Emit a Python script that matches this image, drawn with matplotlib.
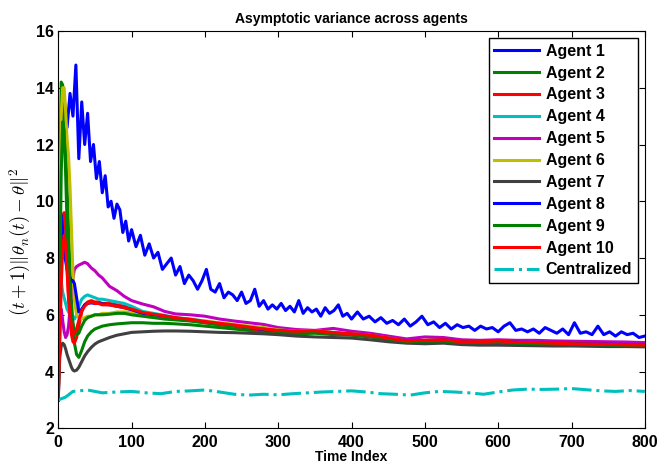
import numpy as np
import matplotlib
matplotlib.use("Agg")
import matplotlib.pyplot as plt

plt.rcParams['font.family'] = ['Liberation Sans', 'DejaVu Sans']
plt.rcParams['font.weight'] = 'bold'
plt.rcParams['mathtext.fontset'] = 'cm'

# time indices shared by agents 2..10
t_grid = [0, 2, 4, 6, 8, 10, 12, 14, 16, 18, 20, 22, 25, 28, 32, 36, 40, 45, 50, 55,
          60, 70, 80, 90, 100, 115, 130, 145, 160, 180, 200, 220, 240, 260, 280, 300,
          325, 350, 375, 400, 425, 450, 475, 500, 525, 550, 575, 600, 625, 650, 675,
          700, 725, 750, 775, 800]

# agent 1 is noisy, read on a denser grid
t_agent1 = list(range(0, 101, 4)) + list(range(106, 401, 6)) + list(range(408, 801, 8))
agent1 = [10.0, 12.8, 13.6, 12.6, 13.8, 13.0, 14.8, 11.5, 13.5, 12.0, 13.1, 11.4, 12.0,
          10.8, 11.4, 10.3, 10.9, 9.8, 10.0, 9.4, 9.9, 9.7, 8.9, 9.3, 8.6, 9.0,
          8.4, 8.8, 8.1, 8.5, 8.0, 8.2, 7.6, 7.8, 8.0, 7.4,
          7.7, 7.1, 7.4, 7.2, 6.9, 7.2, 7.6, 6.9, 6.8, 7.1,
          6.6, 6.8, 6.7, 6.5, 6.8, 6.4, 6.5, 6.9, 6.3, 6.5,
          6.2, 6.35, 6.2, 6.4, 6.15, 6.3, 6.1, 6.5, 6.05, 6.25,
          6.1, 6.2, 5.95, 6.25, 6.05, 6.15, 6.35, 5.95, 6.05, 5.85,
          6.1, 5.85, 5.95, 5.75, 5.9, 5.7, 5.8, 5.65, 5.85, 5.6,
          5.75, 5.95, 5.65, 5.75, 5.55, 5.7, 5.5, 5.65, 5.55, 5.6,
          5.45, 5.6, 5.5, 5.55, 5.4, 5.6, 5.72, 5.45, 5.5, 5.4,
          5.5, 5.35, 5.55, 5.45, 5.35, 5.5, 5.3, 5.72, 5.35, 5.4,
          5.3, 5.6, 5.3, 5.4, 5.25, 5.4, 5.3, 5.35, 5.2, 5.25]

agent2 = [3.0, 10.5, 14.2, 14.1, 13.2, 12.0, 10.5, 9.0, 7.6, 6.5, 5.6, 5.0, 4.6, 4.5,
          4.75, 5.05, 5.25, 5.4, 5.5, 5.55, 5.6, 5.65, 5.68, 5.7,
          5.72, 5.72, 5.7, 5.7, 5.68, 5.65, 5.6, 5.55, 5.5, 5.45, 5.4, 5.35, 5.33, 5.35,
          5.3, 5.28, 5.22, 5.12, 5.02, 5.05, 5.05, 5.0, 5.0, 5.0, 4.98, 4.97, 4.97, 4.95,
          4.93, 4.92, 4.92, 4.9]
agent3 = [3.0, 6.5, 8.8, 9.4, 9.6, 9.0, 7.8, 6.6, 5.8, 5.3, 5.05, 5.0, 5.2, 5.6, 6.1,
          6.35, 6.45, 6.5, 6.45, 6.45, 6.4, 6.4, 6.35, 6.3,
          6.2, 6.05, 6.0, 5.92, 5.85, 5.8, 5.72, 5.65, 5.6, 5.52, 5.46, 5.42, 5.38, 5.4,
          5.35, 5.3, 5.25, 5.15, 5.06, 5.08, 5.1, 5.04, 5.03, 5.05, 5.02, 5.02, 5.0, 4.99,
          4.97, 4.96, 4.94, 4.93]
agent4 = [3.0, 6.5, 7.2, 6.8, 6.6, 6.4, 6.2, 6.1, 6.0, 5.95, 5.9, 5.85, 6.0, 6.3, 6.55,
          6.65, 6.7, 6.65, 6.6, 6.55, 6.55, 6.5, 6.45, 6.4,
          6.3, 6.12, 6.05, 5.98, 5.9, 5.85, 5.78, 5.7, 5.64, 5.57, 5.5, 5.45, 5.4, 5.43,
          5.38, 5.33, 5.28, 5.18, 5.08, 5.1, 5.12, 5.06, 5.05, 5.07, 5.04, 5.04, 5.02,
          5.01, 4.99, 4.98, 4.96, 4.95]
agent5 = [3.0, 5.5, 6.2, 5.8, 5.4, 5.2, 5.3, 5.6, 6.2, 6.8, 7.3, 7.6, 7.7, 7.75, 7.8,
          7.85, 7.8, 7.65, 7.55, 7.4, 7.3, 7.0, 6.85, 6.65,
          6.5, 6.38, 6.28, 6.12, 6.03, 6.0, 5.95, 5.85, 5.78, 5.72, 5.66, 5.55, 5.48, 5.45,
          5.52, 5.42, 5.35, 5.25, 5.15, 5.22, 5.2, 5.12, 5.1, 5.12, 5.1, 5.1, 5.08, 5.07,
          5.06, 5.05, 5.04, 5.02]
agent6 = [3.0, 9.5, 13.0, 14.0, 14.0, 13.2, 12.2, 11.6, 10.5, 9.0, 7.5, 6.5, 6.0, 5.9,
          5.85, 5.9, 5.95, 5.95, 6.0, 6.0, 6.05, 6.05, 6.1, 6.1,
          6.1, 6.0, 5.95, 5.9, 5.87, 5.83, 5.78, 5.72, 5.66, 5.6, 5.55, 5.47, 5.42, 5.44,
          5.38, 5.33, 5.28, 5.18, 5.08, 5.1, 5.1, 5.05, 5.04, 5.06, 5.02, 5.01, 5.0, 4.98,
          4.96, 4.95, 4.94, 4.93]
agent7 = [3.0, 4.5, 4.9, 5.0, 4.95, 4.8, 4.6, 4.45, 4.3, 4.15, 4.05, 4.02, 4.05, 4.15,
          4.35, 4.55, 4.7, 4.85, 4.97, 5.05, 5.1, 5.2, 5.28, 5.33,
          5.38, 5.4, 5.42, 5.43, 5.43, 5.42, 5.4, 5.38, 5.37, 5.35, 5.33, 5.3, 5.25, 5.22,
          5.2, 5.18, 5.12, 5.05, 5.0, 4.98, 5.0, 4.95, 4.93, 4.93, 4.92, 4.91, 4.9, 4.9,
          4.89, 4.88, 4.88, 4.87]
agent8 = [3.0, 8.5, 9.5, 9.0, 8.4, 7.9, 7.6, 7.4, 7.3, 7.2, 7.2, 7.1, 6.6, 6.1, 6.2,
          6.35, 6.4, 6.42, 6.4, 6.4, 6.38, 6.35, 6.3, 6.25,
          6.18, 6.05, 6.0, 5.95, 5.88, 5.82, 5.75, 5.68, 5.62, 5.55, 5.48, 5.44, 5.4, 5.42,
          5.36, 5.32, 5.27, 5.17, 5.08, 5.09, 5.11, 5.05, 5.04, 5.06, 5.03, 5.02, 5.01,
          4.99, 4.97, 4.96, 4.95, 4.94]
agent9 = [3.0, 7.0, 11.0, 12.8, 12.5, 11.0, 9.2, 7.8, 6.8, 6.1, 5.7, 5.45, 5.3, 5.35,
          5.6, 5.8, 5.9, 5.95, 6.0, 6.0, 6.0, 6.02, 6.05, 6.05,
          6.0, 5.95, 5.9, 5.85, 5.82, 5.78, 5.72, 5.65, 5.6, 5.55, 5.5, 5.42, 5.38, 5.4,
          5.35, 5.3, 5.25, 5.15, 5.05, 5.07, 5.08, 5.02, 5.02, 5.04, 5.0, 4.99, 4.98, 4.97,
          4.95, 4.94, 4.93, 4.92]
agent10 = [3.0, 5.0, 7.0, 8.3, 8.8, 8.5, 7.5, 6.6, 6.0, 5.6, 5.4, 5.35, 5.5, 5.8, 6.15,
           6.3, 6.4, 6.45, 6.4, 6.4, 6.35, 6.35, 6.3, 6.25,
           6.2, 6.08, 6.02, 5.96, 5.9, 5.84, 5.76, 5.7, 5.64, 5.57, 5.5, 5.45, 5.42, 5.44,
           5.37, 5.33, 5.28, 5.18, 5.08, 5.1, 5.12, 5.05, 5.05, 5.08, 5.03, 5.02, 5.0,
           4.98, 4.97, 4.96, 4.94, 4.93]

t_central = [0, 10, 20, 40, 60, 80, 100, 120, 140, 160, 180, 200, 220, 240, 260, 280,
             300, 320, 340, 360, 380, 400, 420, 440, 460, 480, 500, 520, 540, 560, 580,
             600, 620, 640, 660, 680, 700, 720, 740, 760, 780, 800]
central = [3.0, 3.1, 3.3, 3.35, 3.25, 3.28, 3.3, 3.25, 3.22, 3.3, 3.32, 3.35, 3.28, 3.2,
           3.17, 3.2, 3.18, 3.22, 3.25, 3.28, 3.3, 3.32, 3.28, 3.22, 3.2, 3.17, 3.25, 3.3,
           3.28, 3.25, 3.2, 3.28, 3.35, 3.38, 3.37, 3.38, 3.4, 3.36, 3.32, 3.3, 3.33, 3.3]

blue = (0, 0, 1)
green = (0, 0.5, 0)
red = (1, 0, 0)
cyan = (0, 0.75, 0.75)
magenta = (0.75, 0, 0.75)
yellow = (0.75, 0.75, 0)
gray = (0.25, 0.25, 0.25)

fig = plt.figure(figsize=(6.6, 4.68), dpi=100)
ax = fig.add_axes([0.0883, 0.0848, 0.8887, 0.849])

lw = 2.2
ax.plot(t_agent1, agent1, color=blue, lw=lw, label='Agent 1')
ax.plot(t_grid, agent2, color=green, lw=lw, label='Agent 2')
ax.plot(t_grid, agent3, color=red, lw=lw, label='Agent 3')
ax.plot(t_grid, agent4, color=cyan, lw=lw, label='Agent 4')
ax.plot(t_grid, agent5, color=magenta, lw=lw, label='Agent 5')
ax.plot(t_grid, agent6, color=yellow, lw=lw, label='Agent 6')
ax.plot(t_grid, agent7, color=gray, lw=lw, label='Agent 7')
ax.plot(t_grid, agent8, color=blue, lw=lw, label='Agent 8')
ax.plot(t_grid, agent9, color=green, lw=lw, label='Agent 9')
ax.plot(t_grid, agent10, color=red, lw=lw, label='Agent 10')
ax.plot(t_central, central, color=cyan, lw=lw, ls='-.', label='Centralized')

ax.set_xlim(0, 800)
ax.set_ylim(2, 16)
ax.set_xticks(range(0, 801, 100))
ax.set_yticks(range(2, 17, 2))
ax.tick_params(direction='in', top=True, right=True, labelsize=11.5, length=4)
ax.tick_params(axis='x', pad=5)
ax.tick_params(axis='y', pad=3)
for lab in ax.get_xticklabels() + ax.get_yticklabels():
    lab.set_fontweight('bold')

ax.set_title('Asymptotic variance across agents', fontsize=10, fontweight='bold', pad=6)
ax.set_xlabel('Time Index', fontsize=10, fontweight='bold', labelpad=0)
ax.set_ylabel(r'$(t+1)\|\theta_n(t)-\theta\|^2$', fontsize=13.5)
ax.yaxis.set_label_coords(-0.043, 0.47)

leg = ax.legend(loc='upper right', fontsize=11.5, handlelength=2.8, labelspacing=0.43,
                borderaxespad=0.45, fancybox=False, framealpha=1, edgecolor='black',
                borderpad=0.35, handletextpad=0.4)
leg.get_frame().set_linewidth(1.0)
for txt in leg.get_texts():
    txt.set_fontweight('bold')

fig.savefig('out.png', dpi=100)
